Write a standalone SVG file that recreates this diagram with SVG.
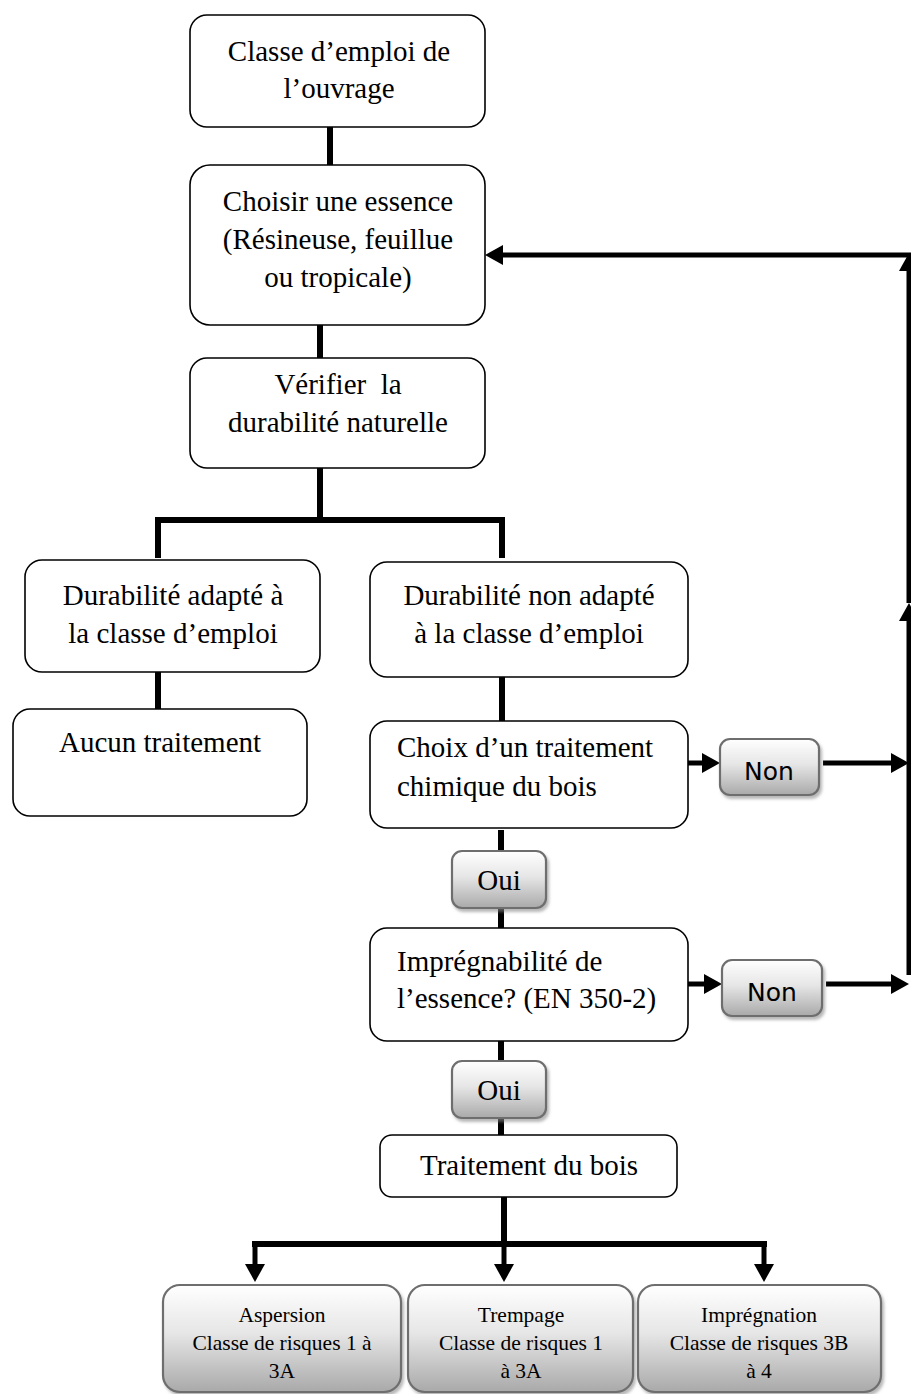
<svg xmlns="http://www.w3.org/2000/svg" width="911" height="1394" viewBox="0 0 911 1394">
<defs>
<style>
.box{fill:#fff;stroke:#000;stroke-width:1.6}
.gbox{fill:url(#grad);stroke:#6e6e6e;stroke-width:2.2;filter:url(#sh)}
.t{font-family:"Liberation Serif","Times New Roman",serif;font-size:29px;fill:#000}
.tm{text-anchor:middle}
.ts{font-family:"Liberation Serif","Times New Roman",serif;font-size:21.5px;fill:#000;text-anchor:middle}
.non{font-family:"DejaVu Sans",Verdana,sans-serif;font-size:25px;fill:#000;text-anchor:middle}
.c{stroke:#000;stroke-width:6;fill:none}
.a{stroke:#000;stroke-width:5;fill:none;marker-end:url(#ah)}
</style>
<linearGradient id="grad" x1="0" y1="0" x2="0" y2="1">
<stop offset="0" stop-color="#ffffff"/>
<stop offset="0.45" stop-color="#e6e6e6"/>
<stop offset="1" stop-color="#a9a9a9"/>
</linearGradient>
<filter id="sh" x="-10%" y="-10%" width="125%" height="130%">
<feDropShadow dx="2" dy="3" stdDeviation="1.5" flood-color="#888" flood-opacity="0.6"/>
</filter>
<marker id="ah" markerUnits="userSpaceOnUse" markerWidth="18" markerHeight="20" refX="0" refY="10" orient="auto" viewBox="0 0 18 20">
<path d="M0,0 L18,10 L0,20 z" fill="#000"/>
</marker>
</defs>
<rect width="911" height="1394" fill="#fff"/>

<g id="connectors">
<line class="c" x1="330" y1="127" x2="330" y2="165"/>
<line class="c" x1="320" y1="325" x2="320" y2="358"/>
<line class="c" x1="320" y1="468" x2="320" y2="520"/>
<polyline class="c" points="158,558 158,520 502,520 502,558"/>
<line class="c" x1="158" y1="672" x2="158" y2="709"/>
<line class="c" x1="502" y1="677" x2="502" y2="721"/>
<line class="c" x1="501" y1="830" x2="501" y2="851"/>
<line class="c" x1="501" y1="908" x2="501" y2="928"/>
<line class="c" x1="501" y1="1041" x2="501" y2="1061"/>
<line class="c" x1="501" y1="1118" x2="501" y2="1135"/>
<line class="c" x1="504" y1="1197" x2="504" y2="1244"/>
<line class="c" x1="252" y1="1244" x2="767" y2="1244"/>
<line class="a" x1="255" y1="1241" x2="255" y2="1264"/>
<line class="a" x1="504" y1="1241" x2="504" y2="1264"/>
<line class="a" x1="764" y1="1241" x2="764" y2="1264"/>
<line class="a" x1="688" y1="763" x2="702" y2="763"/>
<line class="a" x1="823" y1="763" x2="891" y2="763"/>
<line class="a" x1="688" y1="984" x2="704" y2="984"/>
<line class="a" x1="826" y1="984" x2="891" y2="984"/>
<line class="a" x1="909" y1="975" x2="909" y2="621"/>
<line class="a" x1="909" y1="603" x2="909" y2="271"/>
<line class="a" x1="911" y1="255" x2="503" y2="255"/>
</g>

<g id="n1">
<rect class="box" x="190" y="15" width="295" height="112" rx="17"/>
<text class="t tm" x="339" y="61">Classe d’emploi de</text>
<text class="t tm" x="339" y="98">l’ouvrage</text>
</g>
<g id="n2">
<rect class="box" x="190" y="165" width="295" height="160" rx="20"/>
<text class="t tm" x="338" y="211">Choisir une essence</text>
<text class="t tm" x="338" y="249">(Résineuse, feuillue</text>
<text class="t tm" x="338" y="287">ou tropicale)</text>
</g>
<g id="n3">
<rect class="box" x="190" y="358" width="295" height="110" rx="17"/>
<text class="t tm" x="338" y="394" xml:space="preserve">Vérifier  la</text>
<text class="t tm" x="338" y="432">durabilité naturelle</text>
</g>
<g id="n4">
<rect class="box" x="25" y="560" width="295" height="112" rx="17"/>
<text class="t tm" x="173" y="605">Durabilité adapté à</text>
<text class="t tm" x="173" y="643">la classe d’emploi</text>
</g>
<g id="n5">
<rect class="box" x="370" y="562" width="318" height="115" rx="17"/>
<text class="t tm" x="529" y="605">Durabilité non adapté</text>
<text class="t tm" x="529" y="643">à la classe d’emploi</text>
</g>
<g id="n6">
<rect class="box" x="13" y="709" width="294" height="107" rx="17"/>
<text class="t tm" x="160" y="752">Aucun traitement</text>
</g>
<g id="n7">
<rect class="box" x="370" y="721" width="318" height="107" rx="17"/>
<text class="t" x="397" y="757">Choix d’un traitement</text>
<text class="t" x="397" y="796">chimique du bois</text>
</g>
<g id="n8">
<rect class="gbox" x="720" y="739" width="99" height="56" rx="10"/>
<text class="non" x="769" y="780">Non</text>
</g>
<g id="n9">
<rect class="gbox" x="452" y="851" width="94" height="57" rx="10"/>
<text class="t tm" x="499" y="890">Oui</text>
</g>
<g id="n10">
<rect class="box" x="370" y="928" width="318" height="113" rx="17"/>
<text class="t" x="397" y="971">Imprégnabilité de</text>
<text class="t" x="397" y="1008">l’essence? (EN 350-2)</text>
</g>
<g id="n11">
<rect class="gbox" x="722" y="960" width="100" height="56" rx="10"/>
<text class="non" x="772" y="1001">Non</text>
</g>
<g id="n12">
<rect class="gbox" x="452" y="1061" width="94" height="57" rx="10"/>
<text class="t tm" x="499" y="1100">Oui</text>
</g>
<g id="n13">
<rect class="box" x="380" y="1135" width="297" height="62" rx="12"/>
<text class="t tm" x="529" y="1175">Traitement du bois</text>
</g>
<g id="n14">
<rect class="gbox" x="163" y="1285" width="238" height="107" rx="17"/>
<text class="ts" x="282" y="1322">Aspersion</text>
<text class="ts" x="282" y="1350">Classe de risques 1 à</text>
<text class="ts" x="282" y="1378">3A</text>
</g>
<g id="n15">
<rect class="gbox" x="408" y="1285" width="225" height="107" rx="17"/>
<text class="ts" x="521" y="1322">Trempage</text>
<text class="ts" x="521" y="1350">Classe de risques 1</text>
<text class="ts" x="521" y="1378">à 3A</text>
</g>
<g id="n16">
<rect class="gbox" x="638" y="1285" width="243" height="107" rx="17"/>
<text class="ts" x="759" y="1322">Imprégnation</text>
<text class="ts" x="759" y="1350">Classe de risques 3B</text>
<text class="ts" x="759" y="1378">à 4</text>
</g>
</svg>
